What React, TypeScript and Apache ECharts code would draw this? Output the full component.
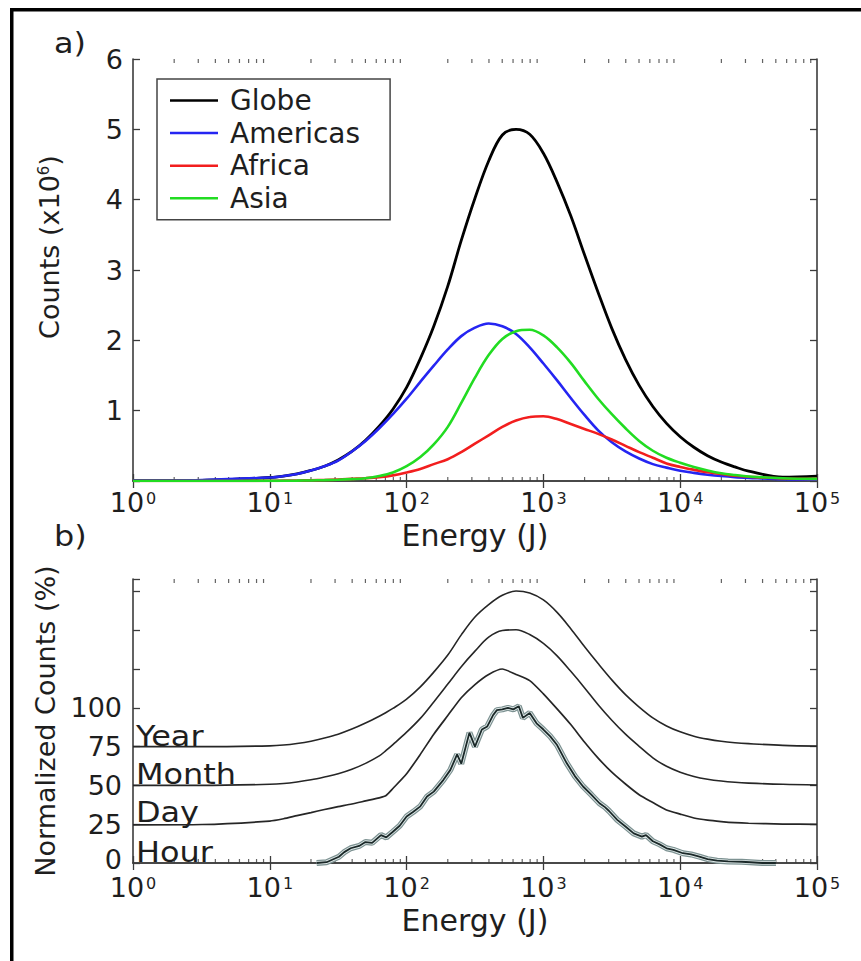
import React, { useEffect, useRef } from 'react';
import * as echarts from 'echarts';

// ---------- Panel a) data : energy (J) and counts (x10^6) ----------
const topEnergy = [1, 3.2, 10, 12.6, 15.8, 20, 25.1, 31.6, 39.8, 50.1, 63.1, 79.4, 100, 126, 158, 200, 251, 316, 398, 501, 631, 794, 1000, 1259, 1585, 1995, 2512, 3162, 3981, 5012, 6310, 7943, 10000, 12589, 15849, 19953, 25119, 31623, 56234, 100000];
const globe = [0.005, 0.01, 0.05, 0.07, 0.1, 0.15, 0.21, 0.3, 0.42, 0.58, 0.78, 1.02, 1.33, 1.74, 2.2, 2.77, 3.42, 4.02, 4.55, 4.92, 5.0, 4.93, 4.66, 4.25, 3.77, 3.22, 2.68, 2.17, 1.73, 1.36, 1.06, 0.82, 0.63, 0.48, 0.36, 0.27, 0.2, 0.14, 0.055, 0.07];
const americas = [0.005, 0.015, 0.05, 0.07, 0.1, 0.15, 0.21, 0.29, 0.42, 0.57, 0.75, 0.95, 1.17, 1.41, 1.64, 1.87, 2.06, 2.18, 2.24, 2.2, 2.09, 1.9, 1.67, 1.43, 1.18, 0.94, 0.72, 0.55, 0.42, 0.32, 0.24, 0.19, 0.145, 0.115, 0.09, 0.07, 0.055, 0.045, 0.025, 0.02];
const africa = [0, 0, 0.003, 0.005, 0.007, 0.01, 0.015, 0.02, 0.03, 0.04, 0.055, 0.08, 0.12, 0.17, 0.24, 0.31, 0.41, 0.53, 0.65, 0.77, 0.86, 0.91, 0.92, 0.88, 0.81, 0.74, 0.67, 0.59, 0.5, 0.41, 0.33, 0.25, 0.2, 0.16, 0.125, 0.1, 0.075, 0.06, 0.035, 0.03];
const asia = [0, 0, 0.002, 0.003, 0.005, 0.008, 0.012, 0.018, 0.027, 0.04, 0.07, 0.12, 0.21, 0.34, 0.52, 0.77, 1.11, 1.47, 1.79, 2.02, 2.13, 2.15, 2.07, 1.9, 1.68, 1.42, 1.17, 0.95, 0.75, 0.57, 0.43, 0.33, 0.26, 0.2, 0.15, 0.11, 0.085, 0.065, 0.04, 0.03];

// ---------- Panel b) data : energy (J) and normalized counts (%), offset curves ----------
const botEnergy = [1, 3.2, 10, 12.6, 15.8, 20, 25.1, 31.6, 39.8, 50.1, 63.1, 70.8, 79.4, 100, 126, 158, 200, 251, 316, 398, 501, 631, 794, 1000, 1259, 1585, 1995, 2512, 3162, 3981, 5012, 6310, 7943, 10000, 12589, 15849, 19953, 25119, 31623, 56234, 100000];
const year = [75, 75, 75.5, 76, 77, 78.5, 80.5, 83, 86.3, 90.2, 94.6, 97, 99.6, 105.6, 113.5, 123, 134, 147, 158.5, 166.5, 172.5, 175.3, 174, 169.5, 161.5, 151, 139.5, 128.5, 118, 108.5, 100.5, 93.5, 88.3, 84.5, 81.7, 79.8, 78.4, 77.5, 76.9, 75.8, 75.3];
const month = [50, 50, 50.7, 51.2, 52.2, 53.6, 55.4, 57.5, 60.4, 64.2, 69, 72.5, 76.3, 84.3, 93.2, 103.8, 115.3, 126.5, 136.5, 145.5, 149.8, 150.3, 147.2, 141.5, 133.5, 123.5, 113, 102, 92, 83, 75.2, 67.8, 62.3, 58.5, 55.8, 54, 52.8, 52, 51.5, 50.7, 50.3];
const day = [24.6, 24.8, 27, 28.5, 30.5, 32.5, 34.5, 36.3, 38, 40, 42, 43.5, 48, 57.5, 70, 83, 95, 106.5, 115, 121.5, 125, 121.5, 117.5, 109, 99.3, 89.2, 78, 67.6, 58.5, 50.9, 44, 39, 34.2, 31.5, 29, 27.6, 26.7, 26, 25.6, 25.1, 24.9];

const hourEnergy = [22, 26, 32, 35, 39, 45, 50, 56, 65, 71, 79, 89, 100, 112, 126, 141, 158, 186, 209, 234, 251, 288, 316, 355, 389, 427, 457, 501, 550, 603, 661, 708, 794, 891, 1000, 1122, 1259, 1479, 1698, 1950, 2239, 2570, 2818, 3020, 3467, 3981, 4571, 5248, 5623, 6310, 7079, 7943, 8913, 10471, 12023, 13804, 15849, 18621, 22387, 28184, 39811, 50119];
const hour = [0, 0.5, 4, 7, 9.5, 11, 13.5, 13, 18, 16.5, 20, 24, 30, 33, 36.5, 42.8, 46, 53.6, 60, 70, 64, 84, 75, 86, 88, 95, 98.5, 99, 100, 99, 101, 93.5, 96.7, 90, 86, 81.6, 76, 64.4, 56, 49.3, 44, 38.5, 36, 33.5, 27.8, 23.5, 19.1, 17, 18, 14, 12, 9.5, 8.5, 6.3, 5.5, 4.1, 2.5, 1.5, 1, 0.8, 0, 0];

const seriesNames = ['Globe', 'Americas', 'Africa', 'Asia'];
const periodLabels = ['Year', 'Month', 'Day', 'Hour'];
const topYTicks = [1, 2, 3, 4, 5, 6];
const botYLabelMax = 100;

const FONT = '"DejaVu Sans", "Liberation Sans", Arial, sans-serif';
const AX = '#3c3c3c';
const TXT = '#1e1e1e';

const pairs = (xs: number[], ys: number[]) => xs.map((x, i) => [x, ys[i]]);

const minorTicks: number[] = [];
for (let k = 0; k < 5; k++) for (let m = 2; m <= 9; m++) minorTicks.push(m * Math.pow(10, k));

const supLabel = (v: number) => `{b|10}{s|${Math.round(Math.log10(v))}}`;
const labelRich = {
  b: { fontSize: 27, lineHeight: 24, fontFamily: FONT, color: TXT },
  s: { fontSize: 16, lineHeight: 16, fontFamily: FONT, color: TXT, verticalAlign: 'top' as const, padding: [0, 0, 0, 2] },
};

function xAxes(gridIndex: number) {
  const common = {
    type: 'log' as const,
    logBase: 10,
    min: 1,
    max: 100000,
    gridIndex,
    axisLine: { show: true, lineStyle: { color: AX, width: 1.6 } },
    axisTick: { show: true, inside: true, length: 7, lineStyle: { color: AX, width: 1.3 } },
    splitLine: { show: false },
    minorTick: { show: false },
  };
  return [
    {
      ...common,
      position: 'bottom' as const,
      axisLabel: { formatter: supLabel, margin: gridIndex === 0 ? 9 : 12, rich: labelRich },
      name: 'Energy (J)',
      nameLocation: 'middle' as const,
      nameGap: gridIndex === 0 ? 39 : 42,
      nameTextStyle: { fontSize: 30, lineHeight: 30, fontFamily: FONT, color: TXT },
    },
    { ...common, position: 'top' as const, axisLabel: { show: false } },
  ];
}

export default function App() {
  const ref = useRef<HTMLDivElement>(null);
  useEffect(() => {
    if (!ref.current) return;
    const chart = echarts.init(ref.current, undefined, { renderer: 'svg' });

    const lineSeries = (name: string, data: number[][], color: string, xi: number, yi: number, width: number, smooth: number | boolean, z = 5) => ({
      name, type: 'line' as const, xAxisIndex: xi, yAxisIndex: yi, data, showSymbol: false, symbol: 'none', smooth,
      color, lineStyle: { color, width }, z, silent: true,
    });

    const tickSeries = (xi: number, yi: number, yv: number, dir: number) => ({
      type: 'scatter' as const, xAxisIndex: xi, yAxisIndex: yi, data: minorTicks.map((e) => [e, yv]),
      symbol: 'rect', symbolSize: [1.2, 4], symbolOffset: [0, dir * 2], itemStyle: { color: AX }, silent: true, z: 2,
    });

    const textEl = (text: string, x: number, y: number) => ({
      type: 'text', x, y, scaleX: 1.1, silent: true,
      style: { text, font: `29px ${FONT}`, fill: TXT, textVerticalAlign: 'bottom' },
    });

    const option: any = {
      animation: false,
      backgroundColor: '#ffffff',
      textStyle: { fontFamily: FONT },
      grid: [
        { left: 133, top: 59, width: 684, height: 422 },
        { left: 133, top: 579, width: 684, height: 284 },
      ],
      xAxis: [...xAxes(0), ...xAxes(1)],
      yAxis: [
        {
          type: 'value', gridIndex: 0, min: 0, max: 6, interval: 1, position: 'left',
          axisLine: { show: true, lineStyle: { color: AX, width: 1.6 } },
          axisTick: { show: true, inside: true, length: 7, lineStyle: { color: AX, width: 1.3 } },
          splitLine: { show: false },
          axisLabel: { fontSize: 27, lineHeight: 22, fontFamily: FONT, color: TXT, margin: 10, formatter: (v: number) => (topYTicks.includes(v) ? String(v) : '') },
          name: '{n|Counts (x10}{s|6}{n|)}',
          nameLocation: 'middle', nameGap: 70,
          nameTextStyle: {
            padding: [0, 0, 0, 46],
            rich: { n: { fontSize: 27, fontFamily: FONT, color: TXT }, s: { fontSize: 15, fontFamily: FONT, color: TXT, verticalAlign: 'top' } },
          },
        },
        {
          type: 'value', gridIndex: 0, min: 0, max: 6, interval: 1, position: 'right',
          axisLine: { show: true, lineStyle: { color: AX, width: 1.6 } },
          axisTick: { show: true, inside: true, length: 7, lineStyle: { color: AX, width: 1.3 } },
          splitLine: { show: false }, axisLabel: { show: false },
        },
        {
          type: 'value', gridIndex: 1, min: 0, max: 183, interval: 25, position: 'left',
          axisLine: { show: true, lineStyle: { color: AX, width: 1.6 } },
          axisTick: { show: true, inside: true, length: 7, lineStyle: { color: AX, width: 1.3 } },
          splitLine: { show: false },
          axisLabel: {
            fontSize: 27, lineHeight: 18, fontFamily: FONT, color: TXT, margin: 11,
            formatter: (v: number) => (v === 0 ? '{z|0}' : v <= botYLabelMax && v % 25 === 0 ? String(v) : ''),
            rich: { z: { fontSize: 27, lineHeight: 18, fontFamily: FONT, color: TXT, padding: [0, 0, 8, 0] } },
          },
          name: 'Normalized Counts (%)',
          nameLocation: 'middle', nameGap: 74,
          nameTextStyle: { fontSize: 27, fontFamily: FONT, color: TXT },
        },
        {
          type: 'value', gridIndex: 1, min: 0, max: 183, interval: 25, position: 'right',
          axisLine: { show: true, lineStyle: { color: AX, width: 1.6 } },
          axisTick: { show: true, inside: true, length: 7, lineStyle: { color: AX, width: 1.3 } },
          splitLine: { show: false }, axisLabel: { show: false },
        },
      ],
      legend: {
        data: seriesNames,
        orient: 'vertical',
        left: 157, top: 79,
        icon: 'rect', itemWidth: 48, itemHeight: 2.5, itemGap: 1.6,
        padding: [6, 30, 6, 13],
        borderColor: '#444', borderWidth: 1.5, backgroundColor: '#fff',
        textStyle: { fontSize: 28, lineHeight: 31, fontFamily: FONT, color: TXT, padding: [0, 0, 0, 7] },
        selectedMode: false,
      },
      graphic: [
        { type: 'rect', shape: { x: 10, y: 8, width: 3.5, height: 953 }, style: { fill: '#000' }, silent: true },
        { type: 'rect', shape: { x: 10, y: 8, width: 851, height: 3.5 }, style: { fill: '#000' }, silent: true },
        textEl('a)', 54, 58),
        textEl('b)', 54, 551),
        textEl(periodLabels[0], 136, 751),
        textEl(periodLabels[1], 136, 789),
        textEl(periodLabels[2], 136, 827),
        textEl(periodLabels[3], 136, 867),
      ],
      series: [
        tickSeries(0, 0, 0, -1),
        tickSeries(1, 1, 6, 1),
        tickSeries(2, 2, 0, -1),
        tickSeries(3, 3, 183, 1),
        lineSeries('Globe', pairs(topEnergy, globe), '#000000', 0, 0, 2.8, 0.35),
        lineSeries('Americas', pairs(topEnergy, americas), '#2525f2', 0, 0, 2.6, 0.35),
        lineSeries('Africa', pairs(topEnergy, africa), '#f21e1e', 0, 0, 2.6, 0.35),
        lineSeries('Asia', pairs(topEnergy, asia), '#22dc22', 0, 0, 2.6, 0.35),
        lineSeries('Year', pairs(botEnergy, year), '#262626', 2, 2, 1.6, 0.35),
        lineSeries('Month', pairs(botEnergy, month), '#262626', 2, 2, 1.6, 0.35),
        lineSeries('Day', pairs(botEnergy, day), '#262626', 2, 2, 1.7, 0.2),
        lineSeries('HourBandOuter', pairs(hourEnergy, hour), '#7d9292', 2, 2, 6, false, 4),
        lineSeries('HourBandInner', pairs(hourEnergy, hour), '#dfe8e8', 2, 2, 3.6, false, 4),
        lineSeries('Hour', pairs(hourEnergy, hour), '#1a2828', 2, 2, 1.8, false, 5),
      ],
    };
    chart.setOption(option);
    return () => chart.dispose();
  }, []);
  return <div ref={ref} style={{ position: 'absolute', left: 0, top: 0, width: 861, height: 961, background: '#fff' }} />;
}
